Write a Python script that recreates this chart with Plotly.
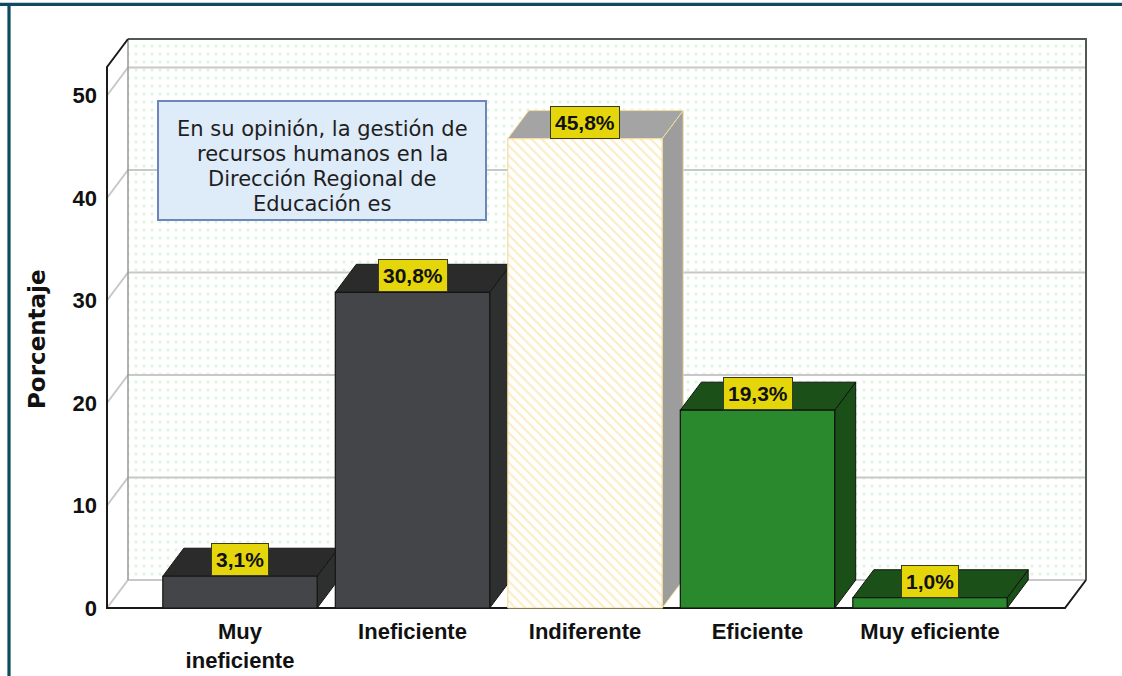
import plotly.graph_objects as go

# ---------------- data ----------------
categorias = ["Muy<br>ineficiente", "Ineficiente", "Indiferente", "Eficiente", "Muy eficiente"]
porcentajes = [3.1, 30.8, 45.8, 19.3, 1.0]
etiquetas = ["3,1%", "30,8%", "45,8%", "19,3%", "1,0%"]
y_ticks = [0, 10, 20, 30, 40, 50]
caja_lineas = ["En su opinión, la gestión de", "recursos humanos en la",
               "Dirección Regional de", "Educación es"]

# ---------------- styles ----------------
col_frente = ["#444548", "#444548", "#ffffff", "#2a892d", "#2a892d"]
col_tapa = ["#2b2b2b", "#2b2b2b", "#a4a4a4", "#1b5119", "#1b5119"]
col_lado = ["#2e2f2f", "#2e2f2f", "#9d9d9d", "#1a4f18", "#1a4f18"]
col_borde = ["#151515", "#151515", "#f2dc9c", "#111111", "#111111"]

W, H = 1122, 676
L, R, T, B = 100, 1092, 34, 613          # plot area in pixels
CAT0_PX, CAT_STEP = 240.0, 172.5          # category 0 centre / spacing (px)
Y0_PX, Y_STEP = 608.0, 10.25              # value 0 pixel / px per unit

def dx_px(p):
    return (p - CAT0_PX) / CAT_STEP

def dy_px(p):
    return (Y0_PX - p) / Y_STEP

def paper_x(p):
    return (p - L) / (R - L)

def paper_y(p):
    return (B - p) / (B - T)

XL = dx_px(107)            # front-left of floor
XR = dx_px(1086)           # back-right
DX = 21 / CAT_STEP         # depth offset (x)
DY = 28 / Y_STEP           # depth offset (y)
YT = dy_px(39)             # top of back wall
BW = 0.895                 # bar width

fig = go.Figure()

# back wall with dotted pattern
fig.add_trace(go.Scatter(
    x=[XL + DX, XR, XR, XL + DX, XL + DX], y=[DY, DY, YT, YT, DY],
    fill="toself", fillcolor="white", mode="none",
    fillpattern=dict(shape=".", fgcolor="#c2eec2", bgcolor="white", size=8, solidity=0.15),
    hoverinfo="skip", showlegend=False))

# grid lines (slanted on left wall + horizontal on back wall)
gx, gy = [], []
for v in y_ticks[1:]:
    gx += [XL, XL + DX, XR, None]
    gy += [v, v + DY, v + DY, None]
gx += [XL, XL + DX, XR, None]
gy += [0, DY, DY, None]
fig.add_trace(go.Scatter(x=gx, y=gy, mode="lines", line=dict(color="#c8c8c8", width=2),
                         hoverinfo="skip", showlegend=False))

# back wall outline
fig.add_trace(go.Scatter(x=[XL + DX, XL + DX], y=[DY, YT], mode="lines",
                         line=dict(color="#8e9e8e", width=1.5), hoverinfo="skip", showlegend=False))
fig.add_trace(go.Scatter(x=[XL + DX, XR, XR], y=[YT, YT, DY], mode="lines",
                         line=dict(color="#4f5a52", width=2), hoverinfo="skip", showlegend=False))

# front frame: left wall edge + floor
fig.add_trace(go.Scatter(x=[XL + DX, XL, XL, XR - DX, XR], y=[YT, YT - DY, 0, 0, DY], mode="lines",
                         line=dict(color="#1a1a1a", width=2), hoverinfo="skip", showlegend=False))

# 3D bars
for i, v in enumerate(porcentajes):
    x0, x1 = i - BW / 2, i + BW / 2
    # side face
    fig.add_trace(go.Scatter(
        x=[x1, x1 + DX, x1 + DX, x1, x1], y=[0, DY, v + DY, v, 0],
        fill="toself", fillcolor=col_lado[i], mode="lines",
        line=dict(color=col_borde[i], width=1), hoverinfo="skip", showlegend=False))
    # top face
    fig.add_trace(go.Scatter(
        x=[x0, x1, x1 + DX, x0 + DX, x0], y=[v, v, v + DY, v + DY, v],
        fill="toself", fillcolor=col_tapa[i], mode="lines",
        line=dict(color=col_borde[i], width=1), hoverinfo="skip", showlegend=False))
    # front face
    front = dict(x=[x0, x1, x1, x0, x0], y=[0, 0, v, v, 0], fill="toself",
                 fillcolor=col_frente[i], mode="lines",
                 line=dict(color=col_borde[i], width=1.2),
                 name=categorias[i].replace("<br>", " "), showlegend=False,
                 hovertemplate=etiquetas[i] + "<extra></extra>")
    if i == 2:
        front["fillpattern"] = dict(shape="\\", fgcolor="#f5d98a", bgcolor="white",
                                    size=7, solidity=0.3)
    fig.add_trace(go.Scatter(**front))

# value labels
for i, v in enumerate(porcentajes):
    fig.add_annotation(x=i, y=v, text="<b>" + etiquetas[i] + "</b>", showarrow=False,
                       yanchor="bottom", xanchor="center", bgcolor="#e4d60b",
                       bordercolor="#3a3a1c", borderwidth=1, borderpad=4,
                       font=dict(family="Liberation Sans, Arial", size=21, color="#111"))

# text box
fig.add_shape(type="rect", xref="paper", yref="paper",
              x0=paper_x(158), x1=paper_x(486), y0=paper_y(220), y1=paper_y(101),
              fillcolor="#deebf9", line=dict(color="#6d86ba", width=2))
for k, txt in enumerate(caja_lineas):
    fig.add_annotation(xref="paper", yref="paper", x=paper_x(322), y=paper_y(129 + 25 * k),
                       text=txt, showarrow=False, xanchor="center", yanchor="middle",
                       font=dict(family="DejaVu Sans, Liberation Sans, Arial", size=21,
                                 color="#1e1e1e"))

# y axis title
fig.add_annotation(xref="paper", yref="paper", x=paper_x(37), y=paper_y(339),
                   text="<b>Porcentaje</b>", showarrow=False, textangle=-90,
                   xanchor="center", yanchor="middle",
                   font=dict(family="DejaVu Sans, Liberation Sans, Arial", size=23, color="#111"))

# outer frame lines (teal)
fig.add_shape(type="line", xref="paper", yref="paper", x0=paper_x(0), x1=paper_x(1122),
              y0=paper_y(4.3), y1=paper_y(4.3), line=dict(color="#0d4b5f", width=3.2))
fig.add_shape(type="line", xref="paper", yref="paper", x0=paper_x(9), x1=paper_x(9),
              y0=paper_y(3), y1=paper_y(680), line=dict(color="#0d4b5f", width=3.2))

fig.update_layout(
    width=W, height=H,
    margin=dict(l=L, r=W - R, t=T, b=H - B, pad=0, autoexpand=False),
    paper_bgcolor="white", plot_bgcolor="white",
    showlegend=False,
    xaxis=dict(range=[dx_px(L), dx_px(R)], tickmode="array", tickvals=list(range(len(categorias))),
               ticktext=["<b>" + c.replace("<br>", "</b><br><b>") + "</b>" for c in categorias],
               showgrid=False, zeroline=False, showline=False, ticks="", automargin=False,
               tickfont=dict(family="Liberation Sans, Arial", size=22, color="#111"),
               ticklabelstandoff=3, fixedrange=True),
    yaxis=dict(range=[dy_px(B), dy_px(T)], tickmode="array", tickvals=y_ticks,
               ticktext=["<b>%d</b>" % t for t in y_ticks],
               showgrid=False, zeroline=False, showline=False, ticks="", automargin=False,
               tickfont=dict(family="Liberation Sans, Arial", size=22, color="#111"),
               ticklabelstandoff=2, fixedrange=True),
)

fig.write_html("out.html", config={"displayModeBar": False},
               post_script="document.body.style.margin='0px';")
